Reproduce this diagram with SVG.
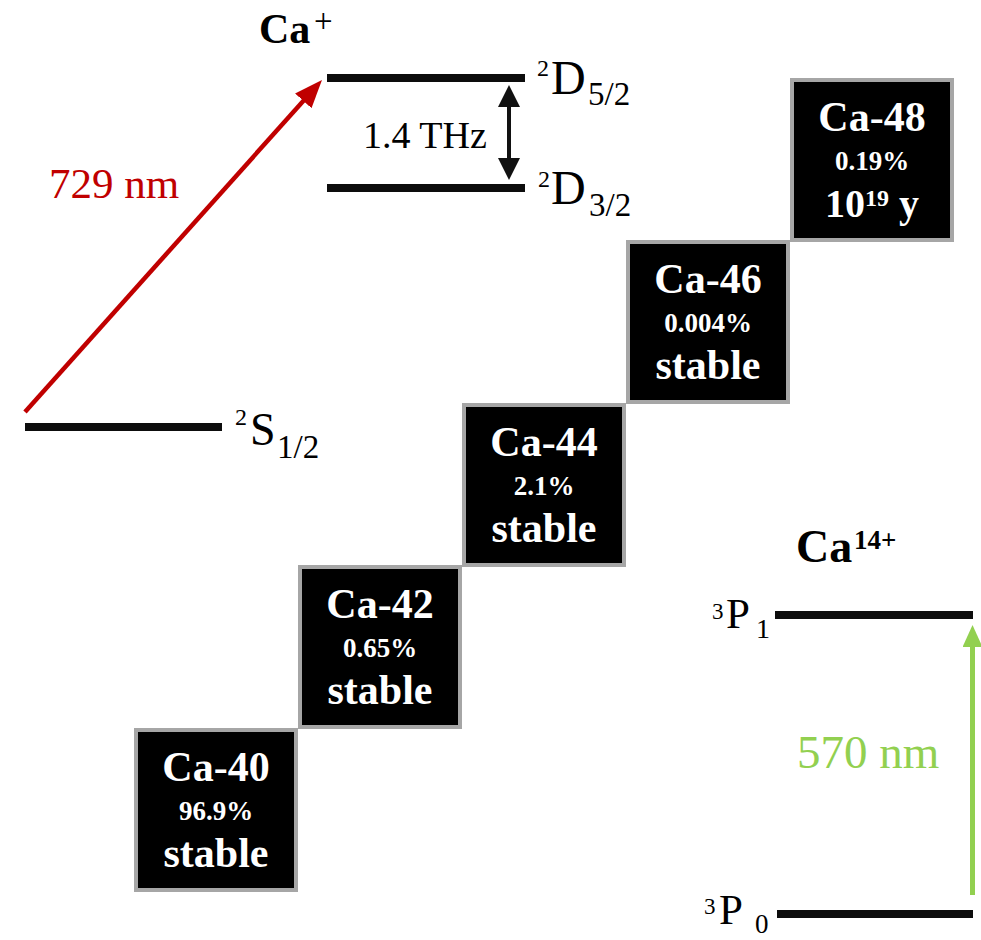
<svg xmlns="http://www.w3.org/2000/svg" width="981" height="940" viewBox="0 0 981 940" font-family="'Liberation Serif', 'Times New Roman', serif">
<defs>
<marker id="hRed" viewBox="0 0 28 22" refX="6" refY="11" markerWidth="28" markerHeight="22" markerUnits="userSpaceOnUse" orient="auto"><path d="M0,0 L28,11 L0,22 z" fill="#c00000"/></marker>
<marker id="hBlk" viewBox="0 0 22 22" refX="5" refY="11" markerWidth="22" markerHeight="22" markerUnits="userSpaceOnUse" orient="auto-start-reverse"><path d="M0,0 L22,11 L0,22 z" fill="#111"/></marker>
<marker id="hGrn" viewBox="0 0 22 20" refX="5" refY="10" markerWidth="22" markerHeight="20" markerUnits="userSpaceOnUse" orient="auto"><path d="M0,0 L22,10 L0,20 z" fill="#92d050"/></marker>
</defs>
<style>
text{font-family:'Liberation Serif','Times New Roman',serif}
.lvl{stroke:#0d0d0d;stroke-width:8;fill:none}
.box rect{fill:#000;stroke:#a6a6a6;stroke-width:4}
.bt{fill:#fff;font-weight:bold;text-anchor:middle}
.big{font-size:42px}
.pct{font-size:27px}
.lab{fill:#000}
.ttl{font-weight:bold;fill:#000}
</style>
<rect width="981" height="940" fill="#fff"/>

<g id="title-ca-plus">
<text class="ttl" x="259" y="43" font-size="42">Ca</text>
<text x="314" y="32" font-size="33" fill="#000">+</text>
</g>

<g id="level-D52">
<line class="lvl" x1="327" y1="78" x2="525" y2="78"/>
<text class="lab" x="537" y="76" font-size="24">2</text>
<text class="lab" x="551" y="94" font-size="48">D</text>
<text class="lab" x="588" y="105" font-size="33">5/2</text>
</g>

<g id="level-D32">
<line class="lvl" x1="327" y1="188" x2="525" y2="188"/>
<text class="lab" x="538" y="187" font-size="24">2</text>
<text class="lab" x="551" y="204" font-size="48">D</text>
<text class="lab" x="589" y="216" font-size="33">3/2</text>
</g>

<g id="level-S12">
<line class="lvl" x1="25" y1="427" x2="222" y2="427"/>
<text class="lab" x="235" y="425" font-size="24">2</text>
<text class="lab" x="250" y="445" font-size="46">S</text>
<text class="lab" x="277" y="458" font-size="33">1/2</text>
</g>

<g id="title-ca14">
<text class="ttl" x="796" y="562" font-size="46">Ca</text>
<text class="ttl" x="854" y="549" font-size="27">14+</text>
</g>

<g id="level-3P1">
<line class="lvl" x1="775" y1="615" x2="973" y2="615"/>
<text class="lab" x="712" y="619" font-size="23">3</text>
<text class="lab" x="726" y="628" font-size="43">P</text>
<text class="lab" x="756" y="638" font-size="28">1</text>
</g>

<g id="level-3P0">
<line class="lvl" x1="777" y1="914" x2="973" y2="914"/>
<text class="lab" x="704" y="914" font-size="23">3</text>
<text class="lab" x="719" y="924" font-size="43">P</text>
<text class="lab" x="755" y="933" font-size="27">0</text>
</g>

<g id="box-ca40" class="box">
<rect x="136" y="730" width="160" height="160"/>
<text class="bt big" x="216" y="781">Ca-40</text>
<text class="bt pct" x="216" y="820">96.9%</text>
<text class="bt big" x="216" y="867">stable</text>
</g>
<g id="box-ca42" class="box">
<rect x="300" y="567" width="160" height="160"/>
<text class="bt big" x="380" y="618">Ca-42</text>
<text class="bt pct" x="380" y="657">0.65%</text>
<text class="bt big" x="380" y="704">stable</text>
</g>
<g id="box-ca44" class="box">
<rect x="464" y="405" width="160" height="160"/>
<text class="bt big" x="544" y="456">Ca-44</text>
<text class="bt pct" x="544" y="495">2.1%</text>
<text class="bt big" x="544" y="542">stable</text>
</g>
<g id="box-ca46" class="box">
<rect x="628" y="242" width="160" height="160"/>
<text class="bt big" x="708" y="293">Ca-46</text>
<text class="bt pct" x="708" y="332">0.004%</text>
<text class="bt big" x="708" y="379">stable</text>
</g>
<g id="box-ca48" class="box">
<rect x="792" y="80" width="160" height="160"/>
<text class="bt big" x="872" y="131">Ca-48</text>
<text class="bt pct" x="872" y="170">0.19%</text>
<text class="bt" x="872" y="217" font-size="40">10<tspan font-size="24" dy="-11">19</tspan><tspan dy="11"> y</tspan></text>
</g>

<g id="connectors">
<line x1="25" y1="412" x2="307.3" y2="96.4" stroke="#c00000" stroke-width="4.5" marker-end="url(#hRed)"/>
<text x="49" y="198" font-size="43" fill="#c00000">729 nm</text>
<line x1="509" y1="102" x2="509" y2="163" stroke="#111" stroke-width="4" marker-start="url(#hBlk)" marker-end="url(#hBlk)"/>
<text x="363" y="148" font-size="38" fill="#000">1.4 THz</text>
<line x1="972.5" y1="895" x2="972.5" y2="642" stroke="#92d050" stroke-width="5" marker-end="url(#hGrn)"/>
<text x="797" y="768" font-size="47" fill="#92d050">570 nm</text>
</g>
</svg>
